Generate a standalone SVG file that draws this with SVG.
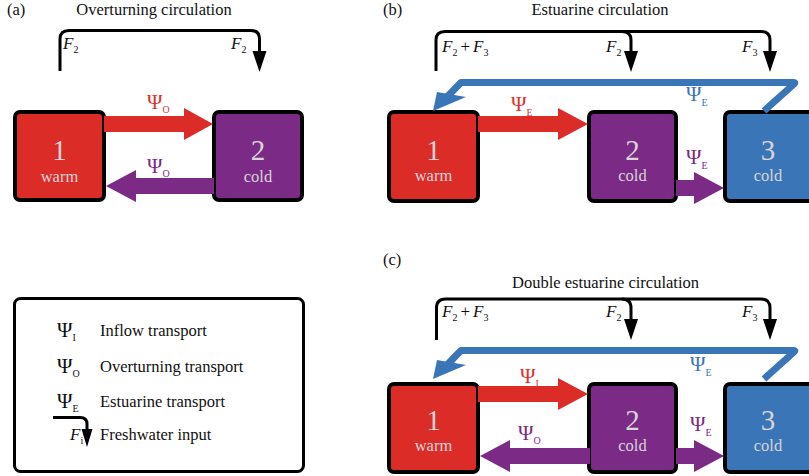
<svg xmlns="http://www.w3.org/2000/svg" width="809" height="476" viewBox="0 0 809 476" font-family="'Liberation Serif', 'DejaVu Serif', serif">
  <style>
    text { font-family: "Liberation Serif", "DejaVu Serif", serif; }
    .title { font-size: 16.5px; fill: #111; }
    .tag { font-size: 16.5px; fill: #111; }
    .box { stroke: #000; stroke-width: 4; }
    .warm { fill: #db2c28; }
    .mid { fill: #7b2a86; }
    .deep { fill: #3a76b7; }
    .num { font-size: 29px; fill: #d8d4d8; text-anchor: middle; }
    .lbl { font-size: 16.5px; fill: #d8d4d8; text-anchor: middle; }
    .fw { fill: none; stroke: #000; stroke-width: 3; stroke-linecap: butt; }
    .fwhead { fill: #000; }
    .ret { fill: none; stroke: #3a76b7; stroke-width: 7; stroke-linejoin: round; }
    .F { font-size: 17px; font-style: italic; fill: #111; }
    .sub { font-size: 10px; }
    .psi { font-size: 21px; }
    .pr { fill: #e0312c; }
    .pp { fill: #7b2a86; }
    .pb { fill: #3a76b7; }
    .pk { fill: #111; }
    .leg { font-size: 16.5px; fill: #111; }
  </style>

  <!-- ===== panel (a) ===== -->
  <text class="tag" x="7" y="15">(a)</text>
  <text class="title" x="154" y="15" text-anchor="middle">Overturning circulation</text>

  <g id="a-box1">
    <rect class="box warm" x="15" y="112" width="89" height="88" rx="5"/>
    <text class="num" x="59.5" y="160">1</text>
    <text class="lbl" x="59.5" y="182">warm</text>
  </g>
  <g id="a-box2">
    <rect class="box mid" x="214" y="112" width="88" height="88" rx="5"/>
    <text class="num" x="258" y="160">2</text>
    <text class="lbl" x="258" y="182">cold</text>
  </g>

  <g id="a-connectors">
    <path class="fw" d="M60 71 V39 Q60 30.5 69 30.5 H251 Q259.5 30.5 259.5 39 V55"/>
    <polygon class="fwhead" points="252.5,51 266.5,51 259.5,72"/>
    <polygon class="warm" points="104,116 184,116 184,108 213,124 184,140 184,132 104,132"/>
    <polygon class="mid" points="214,178 136,178 136,170 106,186 136,202 136,194 214,194"/>
  </g>
  <g id="a-labels">
    <text class="F" x="63" y="49">F<tspan class="sub" dy="4" font-style="normal">2</tspan></text>
    <text class="F" x="231" y="49">F<tspan class="sub" dy="4" font-style="normal">2</tspan></text>
    <text class="psi pr" x="147" y="109">Ψ<tspan class="sub" dy="4">O</tspan></text>
    <text class="psi pp" x="147" y="173">Ψ<tspan class="sub" dy="4">O</tspan></text>
  </g>

  <!-- ===== panel (b) ===== -->
  <text class="tag" x="383" y="15">(b)</text>
  <text class="title" x="600" y="15" text-anchor="middle">Estuarine circulation</text>

  <g id="b-box1">
    <rect class="box warm" x="389" y="112" width="89" height="89" rx="5"/>
    <text class="num" x="433.5" y="160">1</text>
    <text class="lbl" x="433.5" y="181">warm</text>
  </g>
  <g id="b-box2">
    <rect class="box mid" x="589" y="112" width="87" height="89" rx="5"/>
    <text class="num" x="632.5" y="160">2</text>
    <text class="lbl" x="632.5" y="181">cold</text>
  </g>
  <g id="b-box3">
    <rect class="box deep" x="725" y="112" width="89" height="89" rx="5"/>
    <text class="num" x="768" y="160">3</text>
    <text class="lbl" x="768" y="181">cold</text>
  </g>

  <g id="b-connectors">
    <path class="fw" d="M436 71 V40 Q436 31.5 445 31.5 H761 Q770 31.5 770 40 V55"/>
    <path class="fw" d="M622 31.5 Q631 31.5 631 40 V55"/>
    <polygon class="fwhead" points="624,51 638,51 631,72"/>
    <polygon class="fwhead" points="763,51 777,51 770,72"/>
    <path class="ret" d="M764 111 L794 84 Q796 82 793 82.5 H461 L446 98"/>
    <polygon class="deep" points="433,111 437,92 466,97"/>
    <polygon class="warm" points="478,116 558,116 558,108 588,124 558,140 558,132 478,132"/>
    <polygon class="mid" points="676,180 694,180 694,172 724,188 694,204 694,196 676,196"/>
  </g>
  <g id="b-labels">
    <text class="F" x="442" y="52">F<tspan class="sub" dy="4" font-style="normal">2</tspan><tspan font-style="normal" dx="3" dy="-4">+</tspan><tspan dx="3">F</tspan><tspan class="sub" dy="4" font-style="normal">3</tspan></text>
    <text class="F" x="606" y="52">F<tspan class="sub" dy="4" font-style="normal">2</tspan></text>
    <text class="F" x="742" y="52">F<tspan class="sub" dy="4" font-style="normal">3</tspan></text>
    <text class="psi pr" x="511" y="111">Ψ<tspan class="sub" dy="5">E</tspan></text>
    <text class="psi pb" x="686" y="101">Ψ<tspan class="sub" dy="5">E</tspan></text>
    <text class="psi pp" x="686" y="164">Ψ<tspan class="sub" dy="5">E</tspan></text>
  </g>

  <!-- ===== panel (c) ===== -->
  <text class="tag" x="383" y="265">(c)</text>
  <text class="title" x="605.5" y="288" text-anchor="middle">Double estuarine circulation</text>

  <g id="c-box1">
    <rect class="box warm" x="389" y="384" width="89" height="88" rx="5"/>
    <text class="num" x="433.5" y="430">1</text>
    <text class="lbl" x="433.5" y="451">warm</text>
  </g>
  <g id="c-box2">
    <rect class="box mid" x="589" y="384" width="87" height="88" rx="5"/>
    <text class="num" x="632.5" y="430">2</text>
    <text class="lbl" x="632.5" y="451">cold</text>
  </g>
  <g id="c-box3">
    <rect class="box deep" x="725" y="384" width="89" height="88" rx="5"/>
    <text class="num" x="768" y="430">3</text>
    <text class="lbl" x="768" y="451">cold</text>
  </g>

  <g id="c-connectors">
    <path class="fw" d="M436.5 340 V308 Q436.5 299 445.5 299 H761 Q770 299 770 308 V324"/>
    <path class="fw" d="M622 299 Q631 299 631 308 V324"/>
    <polygon class="fwhead" points="624,319 638,319 631,340"/>
    <polygon class="fwhead" points="763,319 777,319 770,340"/>
    <path class="ret" d="M764 379 L794 352 Q796 350 793 350.5 H461 L446 366"/>
    <polygon class="deep" points="433,379 437,360 466,365"/>
    <polygon class="warm" points="478,386 558,386 558,378 588,394 558,410 558,402 478,402"/>
    <polygon class="mid" points="590,448 510,448 510,440 480,456 510,472 510,464 590,464"/>
    <polygon class="mid" points="676,448 694,448 694,440 724,456 694,472 694,464 676,464"/>
  </g>
  <g id="c-labels">
    <text class="F" x="442" y="317">F<tspan class="sub" dy="4" font-style="normal">2</tspan><tspan font-style="normal" dx="3" dy="-4">+</tspan><tspan dx="3">F</tspan><tspan class="sub" dy="4" font-style="normal">3</tspan></text>
    <text class="F" x="606" y="317">F<tspan class="sub" dy="4" font-style="normal">2</tspan></text>
    <text class="F" x="742" y="317">F<tspan class="sub" dy="4" font-style="normal">3</tspan></text>
    <text class="psi pr" x="520" y="383">Ψ<tspan class="sub" dy="4">I</tspan></text>
    <text class="psi pb" x="690" y="371">Ψ<tspan class="sub" dy="5">E</tspan></text>
    <text class="psi pp" x="518" y="440">Ψ<tspan class="sub" dy="4">O</tspan></text>
    <text class="psi pp" x="690" y="431">Ψ<tspan class="sub" dy="5">E</tspan></text>
  </g>

  <!-- ===== legend ===== -->
  <g id="legend">
    <rect x="14.5" y="298.5" width="289" height="173" rx="6" fill="#fff" stroke="#000" stroke-width="3"/>
    <text class="psi pk" x="57" y="337">Ψ<tspan class="sub" dy="4">I</tspan></text>
    <text class="leg" x="100" y="336">Inflow transport</text>
    <text class="psi pk" x="57" y="373">Ψ<tspan class="sub" dy="4">O</tspan></text>
    <text class="leg" x="100" y="372">Overturning transport</text>
    <text class="psi pk" x="57" y="408">Ψ<tspan class="sub" dy="4">E</tspan></text>
    <text class="leg" x="100" y="407">Estuarine transport</text>
    <path class="fw" d="M53 417.5 H80 Q87 417.5 87 424 V432"/>
    <polygon class="fwhead" points="81.5,429 92.5,429 87,447"/>
    <text class="F" x="70" y="440">F<tspan class="sub" dy="4" font-style="normal">i</tspan></text>
    <text class="leg" x="100" y="440">Freshwater input</text>
  </g>
</svg>
